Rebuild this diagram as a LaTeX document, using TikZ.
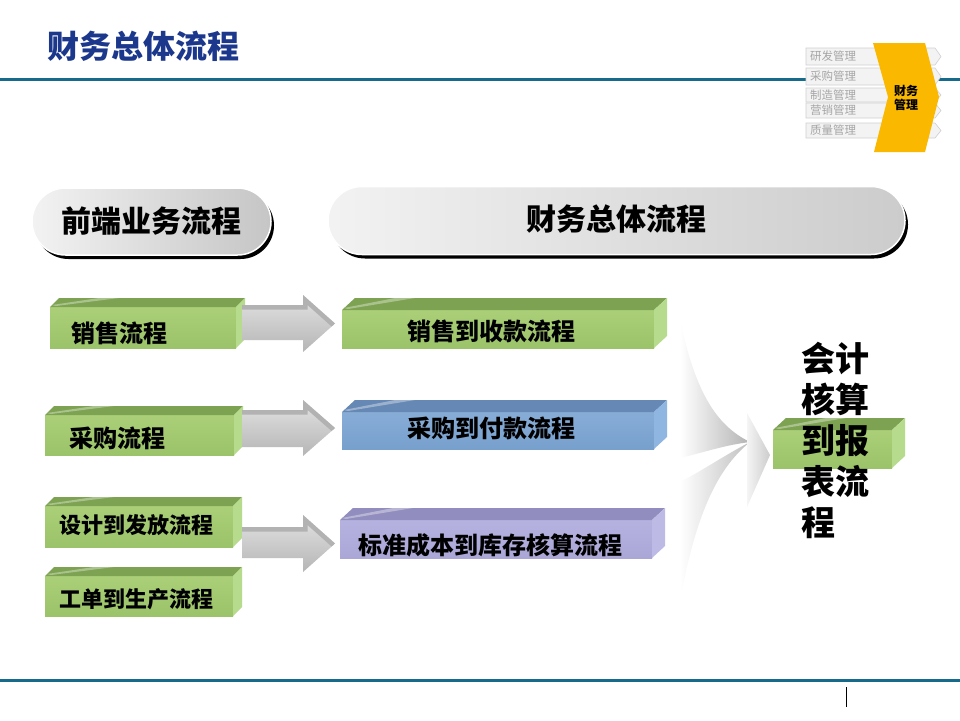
\documentclass[tikz,border=0pt]{standalone}
\usepackage{fontspec}
\setmainfont{Noto Sans CJK SC}
\usetikzlibrary{shapes.misc,shadows}
\definecolor{titleblue}{RGB}{28,56,140}
\definecolor{rulecol}{RGB}{22,106,140}
\definecolor{navyellow}{RGB}{250,185,0}
\definecolor{navfill}{RGB}{243,243,243}
\definecolor{navline}{RGB}{208,208,208}
\definecolor{navtext}{RGB}{165,165,165}
\definecolor{gfront}{RGB}{155,195,105}
\definecolor{gfrontb}{RGB}{170,207,120}
\definecolor{gtop}{RGB}{125,163,82}
\definecolor{gside}{RGB}{182,219,140}
\definecolor{bfront}{RGB}{120,160,205}
\definecolor{bfrontb}{RGB}{135,173,215}
\definecolor{btop}{RGB}{102,136,180}
\definecolor{bside}{RGB}{142,182,224}
\definecolor{pfront}{RGB}{170,166,214}
\definecolor{pfrontb}{RGB}{182,178,224}
\definecolor{ptop}{RGB}{145,141,190}
\definecolor{pside}{RGB}{190,186,230}
\newcommand\tdbar[8]{%
  \node[inner sep=0, outer sep=0, anchor=north west, minimum width={(#4-#2)*1pt}, minimum height={(#5-#3)*1pt}, top color=#6frontb, bottom color=#6front] (#1) at (#2,#3) {};
  \fill[#6top] (#1.north west) -- ++(#7,-#8) -- ([shift={(#7,-#8)}]#1.north east) -- (#1.north east) -- cycle;
  \fill[#6side] (#1.north east) -- ++(#7,-#8) -- ([shift={(#7,-#8)}]#1.south east) -- (#1.south east) -- cycle;
  \fill[white, opacity=0.35] ([shift={(2,-2)}]#1.north west) -- ([shift={(#7+40,-#8)}]#1.north west) -- ([shift={(#7+60,-#8)}]#1.north west) -- ([shift={(6,-1)}]#1.north west) -- cycle;
}
\newcommand\blockarr[4]{%
  \path[top color=gray!22, bottom color=gray!58] (242,#1) -- (303,#1) -- (303,#3) -- (335,{(#3+#4)/2}) -- (303,#4) -- (303,#2) -- (242,#2) -- cycle;
  \begin{scope}
    \clip (242,#1) -- (303,#1) -- (303,#3) -- (335,{(#3+#4)/2}) -- (303,#4) -- (303,#2) -- (242,#2) -- cycle;
    \draw[gray!60, line width=9pt] (242,#1) -- (303,#1) -- (303,#3) -- (335,{(#3+#4)/2});
  \end{scope}
}
\tikzset{
  navbox/.style={fill=navfill, draw=navline, line width=0.6pt},
  navlabel/.style={text=navtext, font=\fontsize{11.5}{12}\selectfont, inner sep=0, anchor=west},
  pill/.style={rounded rectangle, inner sep=0, draw=white, line width=1.5pt,
    drop shadow={fill=black, opacity=1, shadow xshift=3pt, shadow yshift=-4pt},
    font=\bfseries\fontsize{30}{30}\selectfont},
  boxtext/.style={inner sep=0, font=\bfseries\fontsize{24}{24}\selectfont, text=black},
}
\begin{document}
\begin{tikzpicture}[x=1pt,y=-1pt]
\useasboundingbox (0,0) rectangle (960,720);
\fill[white] (0,0) rectangle (960,720);
% rules
\draw[rulecol, line width=3pt] (0,79) -- (960,79);
\draw[rulecol, line width=3pt] (0,680) -- (960,680);
\draw[black, line width=0.8pt] (846,687) -- (846,707);
% title
\node[anchor=west, inner sep=0, text=titleblue, font=\bfseries\fontsize{32}{32}\selectfont] (title) at (47,46) {财务总体流程};
% navigation
\foreach \t/\a/\b [count=\i] in {研发管理/48/65,采购管理/68/85,制造管理/88/102,营销管理/103/118,质量管理/123/138} {
  \draw[navbox] (806,\a) -- (935,\a) -- (941,{(\a+\b)/2}) -- (935,\b) -- (806,\b) -- cycle;
  \node[navlabel] (nav\i) at (810,{(\a+\b)/2}) {\t};
}
\fill[navyellow] (873,43) -- (925,43) -- (939,97) -- (925,152) -- (874,152) -- (888,97) -- cycle;
\node[inner sep=0, align=center, font=\bfseries\fontsize{12}{14}\selectfont] (navfin) at (906,98) {财务\\管理};
% header pills
\node[pill, minimum width=239pt, minimum height=67pt, left color=gray!10, right color=gray!45] (hdrA) at (151.5,221.5) {前端业务流程};
\node[pill, minimum width=577pt, minimum height=68pt, left color=gray!10, right color=gray!40] (hdrB) at (616.5,220.5) {};
\node[inner sep=0, font=\bfseries\fontsize{30}{30}\selectfont] (hdrBt) at (616,219) {财务总体流程};
% left bars
\tdbar{bL1}{50}{307}{236}{348}{g}{9}{9}
\tdbar{bL2}{45}{415}{234}{455}{g}{9}{9}
\tdbar{bL3}{45}{506}{233}{547}{g}{9}{9}
\tdbar{bL4}{45}{576}{233}{616}{g}{9}{9}
\node[boxtext] (tL1) at (119,333) {销售流程};
\node[boxtext] (tL2) at (117,438) {采购流程};
\node[boxtext, font=\bfseries\fontsize{22}{22}\selectfont] (tL3) at (136,525) {设计到发放流程};
\node[boxtext, font=\bfseries\fontsize{22}{22}\selectfont] (tL4) at (136,599) {工单到生产流程};
% arrows
\blockarr{305}{340}{295}{352}
\blockarr{410}{447}{400}{456}
\blockarr{527}{558}{515}{572}
% middle bars
\tdbar{bM1}{342}{310}{654}{348}{g}{13}{12}
\tdbar{bM2}{342}{412}{654}{449}{b}{13}{12}
\tdbar{bM3}{340}{520}{652}{558}{p}{13}{12}
\node[boxtext] (tM1) at (491,331) {销售到收款流程};
\node[boxtext] (tM2) at (491,428) {采购到付款流程};
\node[boxtext] (tM3) at (490,545) {标准成本到库存核算流程};
% funnel
\path[left color=white, right color=gray!60] (680,320) .. controls (695,390) and (715,425) .. (750,442) .. controls (725,445) and (705,452) .. (680,458) -- cycle;
\path[left color=white, right color=gray!50] (680,600) .. controls (695,520) and (715,470) .. (750,442) .. controls (725,455) and (700,472) .. (680,482) -- cycle;
\path[left color=gray!8, right color=gray!40] (747,413) -- (770,455) -- (747,507) -- cycle;
% right bar
\tdbar{bR}{773}{430}{892}{468}{g}{13}{12}
\node[anchor=north west, align=left, inner sep=0, font=\bfseries\fontsize{34}{41}\selectfont] (rtext) at (801,342) {会计\\核算\\到报\\表流\\程};
\end{tikzpicture}
\end{document}
